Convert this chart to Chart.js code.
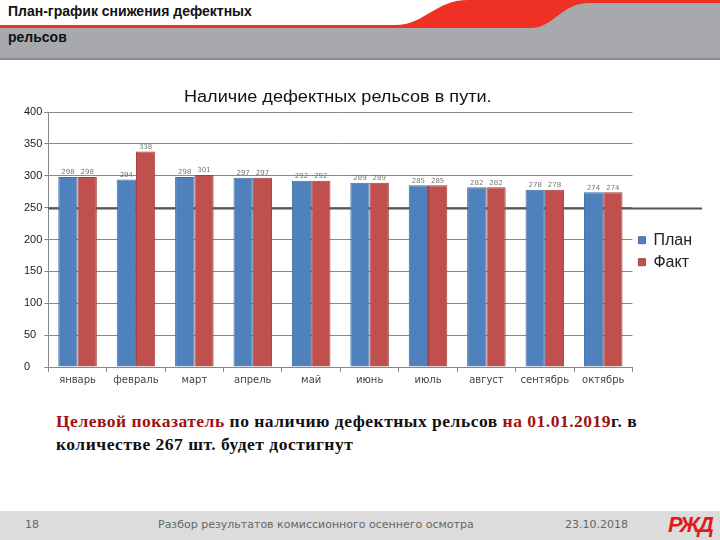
<!DOCTYPE html>
<html>
<head>
<meta charset="utf-8">
<script src="https://cdn.jsdelivr.net/npm/chart.js@4"></script>
<style>
  body { margin: 0; width: 720px; height: 540px; background: #fff; position: relative; overflow: hidden; font-family: "Liberation Sans", Arial, sans-serif; }
  #head { position: absolute; left: 0; top: 0; }
  .htitle { position: absolute; left: 8px; font-family: "Liberation Sans Narrow", "Liberation Sans", sans-serif; font-weight: bold; font-size: 14px; color: #111; }
  #ctitle { position: absolute; left: 184px; top: 88px; font-family: "Liberation Sans", Arial, sans-serif; font-size: 16px; color: #111; white-space: nowrap; transform: scaleX(1.13); transform-origin: left top; }
  #wrap { position: absolute; left: 0; top: 80px; width: 702px; height: 308px; }
  #note { position: absolute; left: 56px; top: 410px; width: 620px; font-family: "Liberation Serif", "Times New Roman", serif; font-weight: bold; font-size: 17.5px; letter-spacing: 0.5px; line-height: 23px; color: #111; }
  #note .r { color: #a01010; }
  #foot { position: absolute; left: 0; top: 511px; width: 720px; height: 29px; background: #dcdcdc; font-family: "DejaVu Sans", Verdana, sans-serif; font-size: 11px; color: #666; }
  #foot span { position: absolute; top: 7px; }
  #logo { position: absolute; right: 8px; top: 1px; font-family: "Liberation Sans", sans-serif; font-style: italic; font-weight: bold; font-size: 22px; color: #e21a1a; letter-spacing: -2px; }
</style>
</head>
<body>
<svg id="head" width="720" height="62">
  <rect x="0" y="0" width="720" height="27" fill="#fff"/>
  <rect x="0" y="27" width="720" height="31" fill="#a7a9ac"/>
  <path d="M0,25 L395,25 C425,25 435,0 468,0 L720,0 L720,28 L0,28 Z" fill="#ee3124"/>
  <path d="M530,28 C555,28 560,3 590,3 L720,3 L720,28 Z" fill="#a7a9ac"/>
  <rect x="0" y="58" width="720" height="2" fill="#8a8a8a"/>
</svg>
<div class="htitle" style="top:3px">План-график снижения дефектных</div>
<div class="htitle" style="top:29px">рельсов</div>

<div id="wrap"><canvas id="defectChart"></canvas></div>
<div id="ctitle">Наличие дефектных рельсов в пути.</div>

<div id="note"><span class="r">Целевой показатель</span> по наличию дефектных рельсов <span class="r">на 01.01.2019</span>г. в количестве 267 шт. будет достигнут</div>

<div id="foot">
  <span style="left:25px">18</span>
  <span style="left:158px">Разбор результатов комиссионного осеннего осмотра</span>
  <span style="left:565px">23.10.2018</span>
  <div id="logo">РЖД</div>
</div>

<script>
const months = ["январь", "февраль", "март", "апрель", "май", "июнь", "июль", "август", "сентябрь", "октябрь"];
const planValues = [298, 294, 298, 297, 292, 289, 285, 282, 278, 274];
const factValues = [298, 338, 301, 297, 292, 289, 285, 282, 278, 274];
const yTicks = [0, 50, 100, 150, 200, 250, 300, 350, 400];

// подписи значений над столбцами
const valueLabels = {
  id: "valueLabels",
  afterDatasetsDraw(chart) {
    const { ctx } = chart;
    ctx.save();
    ctx.font = "7px 'DejaVu Sans', sans-serif";
    ctx.fillStyle = "#777";
    ctx.textAlign = "center";
    ctx.textBaseline = "bottom";
    chart.data.datasets.forEach((ds, i) => {
      chart.getDatasetMeta(i).data.forEach((bar, j) => {
        ctx.fillText(ds.data[j], bar.x, bar.y - 1);
      });
    });
    ctx.restore();
  },
};

// линия 250 тянется до правого края слайда
const line250 = {
  id: "line250",
  beforeDatasetsDraw(chart) {
    const { ctx, chartArea } = chart;
    const y = Math.round(chart.scales.y.getPixelForValue(250)) + 0.5;
    ctx.save();
    ctx.strokeStyle = "#555";
    ctx.lineWidth = 2;
    ctx.beginPath();
    ctx.moveTo(chartArea.left, y);
    ctx.lineTo(chart.width, y);
    ctx.stroke();
    ctx.restore();
  },
};

const ctx = document.getElementById("defectChart").getContext("2d");
new Chart(ctx, {
  type: "bar",
  data: {
    labels: months,
    datasets: [
      { label: "План", data: planValues, backgroundColor: "#4f81bd", borderColor: "#3f6ea6", borderWidth: 1 },
      { label: "Факт", data: factValues, backgroundColor: "#c0504d", borderColor: "#a03e3b", borderWidth: 1 },
    ],
  },
  options: {
    responsive: true,
    maintainAspectRatio: false,
    animation: false,
    layout: { padding: { left: 24, right: 0, top: 32, bottom: 0 } },
    datasets: { bar: { categoryPercentage: 0.66, barPercentage: 1 } },
    scales: {
      x: {
        grid: { drawOnChartArea: false, tickLength: 5, color: "#888" },
        border: { color: "#888" },
        ticks: {
          color: "#444",
          maxRotation: 0,
          minRotation: 0,
          autoSkip: false,
          padding: 2,
          font: { size: 10, family: "'DejaVu Sans', sans-serif" },
        },
      },
      y: {
        min: 0,
        max: 400,
        afterBuildTicks: (axis) => { axis.ticks = yTicks.map((v) => ({ value: v })); },
        grid: { color: "#888", tickLength: 4 },
        border: { color: "#888" },
        ticks: { color: "#222", crossAlign: "far", padding: 1, font: { size: 11, family: "'Liberation Sans', Arial, sans-serif" } },
      },
    },
    plugins: {
      title: { display: false },
      legend: {
        position: "right",
        title: { display: true, text: " ", font: { size: 2 }, padding: { top: 0, bottom: 0 } },
        labels: { color: "#222", boxWidth: 7, boxHeight: 7, padding: 6, font: { size: 16, family: "'Liberation Sans', Arial, sans-serif" } },
      },
      tooltip: { enabled: false },
    },
  },
  plugins: [valueLabels, line250],
});
</script>
</body>
</html>
